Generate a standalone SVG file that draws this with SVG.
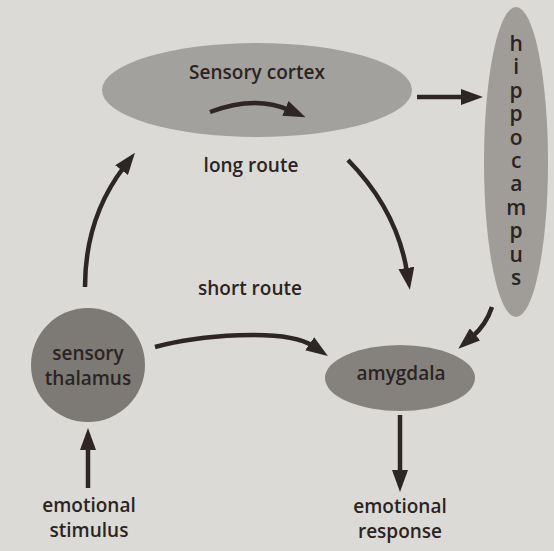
<svg xmlns="http://www.w3.org/2000/svg" width="554" height="551" viewBox="0 0 554 551">
<style>
  .lbl { font-family: "Open Sans", "Noto Sans", "Liberation Sans", sans-serif; font-size: 19px; font-weight: 600; fill: #2b2422; text-anchor: middle; }
  .hip { font-size: 21px; text-anchor: start; writing-mode: vertical-rl; text-orientation: upright; letter-spacing: -4.6px; }
  .conn { fill: none; stroke: #2e2624; stroke-width: 4.5; marker-end: url(#ah); }
</style>
<defs>
  <marker id="ah" viewBox="0 0 22 16" refX="4" refY="8" markerWidth="22" markerHeight="16" markerUnits="userSpaceOnUse" orient="auto">
    <path d="M0,0 L22,8 L0,16 z" fill="#2e2624"/>
  </marker>
</defs>
<rect x="0" y="0" width="554" height="551" fill="#dbdad7"/>
<g id="sensory-cortex">
  <ellipse cx="257" cy="90" rx="155" ry="47" fill="#a3a19d"/>
  <text class="lbl" x="257" y="79">Sensory cortex</text>
</g>
<g id="hippocampus">
  <ellipse cx="516" cy="162" rx="32" ry="155" fill="#a09d99"/>
  <text class="lbl hip" x="516" y="29">hippocampus</text>
</g>
<g id="sensory-thalamus">
  <circle cx="88" cy="365" r="57" fill="#7d7975"/>
  <text class="lbl"><tspan x="88" y="360">sensory</tspan><tspan x="88" y="385">thalamus</tspan></text>
</g>
<g id="amygdala">
  <ellipse cx="400" cy="378" rx="75" ry="33" fill="#85827e"/>
  <text class="lbl" x="401" y="380">amygdala</text>
</g>
<g id="emotional-stimulus">
  <text class="lbl"><tspan x="89" y="512">emotional</tspan><tspan x="89" y="537">stimulus</tspan></text>
</g>
<g id="emotional-response">
  <text class="lbl"><tspan x="400" y="513">emotional</tspan><tspan x="400" y="538">response</tspan></text>
</g>
<g id="route-labels">
  <text class="lbl" x="251" y="172">long route</text>
  <text class="lbl" x="250" y="295">short route</text>
</g>
<g id="connectors">
  <path class="conn" d="M 210 112 Q 255 95 289 110"/>
  <path class="conn" d="M 417 97 L 465 97"/>
  <path class="conn" d="M 85 287 Q 85 218 124 167"/>
  <path class="conn" d="M 348 160 Q 397 210 407 272"/>
  <path class="conn" d="M 155 347 C 195 336, 285 327, 313 346"/>
  <path class="conn" d="M 492 307 Q 486 325 472 337"/>
  <path class="conn" d="M 400 415 L 400 474"/>
  <path class="conn" d="M 88 488 L 88 446"/>
</g>
</svg>
